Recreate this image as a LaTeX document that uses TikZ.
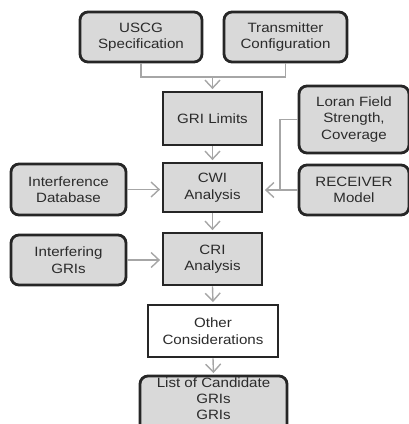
\documentclass[tikz,border=0pt]{standalone}
\usepackage{fontspec}
\setmainfont{Liberation Sans}[FakeStretch=1.12]
\usetikzlibrary{arrows.meta}
\definecolor{boxfill}{HTML}{D9D9D9}
\definecolor{boxline}{HTML}{262626}
\definecolor{linegray}{HTML}{A6A6A6}
\definecolor{txt}{HTML}{2B2B2B}
\tikzset{
  base/.style={draw=boxline, line width=2.8pt, fill=boxfill, text=txt, align=center,
    font=\fontsize{13.5}{16.5}\selectfont, inner sep=0pt},
  rbox/.style={base, rounded corners=8pt},
  sbox/.style={base},
  wbox/.style={base, fill=white},
  conn/.style={draw=linegray, line width=1.4pt},
  arr/.style={conn, -{Straight Barb[length=8pt,width=15pt,line width=1.4pt]}, shorten >=1.5pt},
}
\begin{document}
\begin{tikzpicture}[x=1pt,y=1pt]
\useasboundingbox (0,0) rectangle (409,-424);
\node[rbox, minimum width=122pt, minimum height=50pt] (uscg) at (141,-37) {USCG\\Specification};
\node[rbox, minimum width=123pt, minimum height=50pt] (trans) at (285.5,-37) {Transmitter\\Configuration};
\node[sbox, minimum width=99pt, minimum height=53pt] (gri) at (212.5,-118.5) {GRI Limits};
\node[rbox, minimum width=110pt, minimum height=67pt] (loran) at (354,-119.5) {Loran Field\\Strength,\\Coverage};
\node[sbox, minimum width=99pt, minimum height=49pt] (cwi) at (212.5,-187.5) {CWI\\Analysis};
\node[rbox, minimum width=115pt, minimum height=51pt] (intdb) at (68.5,-189.5) {Interference\\Database};
\node[rbox, minimum width=110pt, minimum height=50pt] (recv) at (354,-190) {RECEIVER\\Model};
\node[sbox, minimum width=99pt, minimum height=52pt] (cri) at (212.5,-259) {CRI\\Analysis};
\node[rbox, minimum width=115pt, minimum height=50pt] (intgri) at (68.5,-260) {Interfering\\GRIs};
\node[wbox, minimum width=130pt, minimum height=52pt] (other) at (213,-331) {Other\\Considerations};
\node[rbox, minimum width=147pt, minimum height=56pt, font=\fontsize{13.5}{16}\selectfont] (list) at (213.5,-404) {List of Candidate\\GRIs\\GRIs\rule[-11.5pt]{0pt}{11.5pt}};
\coordinate (j1) at (212.5,-77);
\coordinate (j2) at (280,-190);
\draw[conn] (uscg.south) |- (j1) -| (trans.south);
\draw[arr] (j1) -- (gri.north);
\draw[conn] (loran.west) -| (j2);
\draw[arr] (recv.west) -- (cwi.east |- recv.west);
\draw[arr] (intdb.east) -- (cwi.west |- intdb.east);
\draw[arr] (intgri.east) -- (cri.west |- intgri.east);
\draw[arr] (gri.south) -- (cwi.north);
\draw[arr] (cwi.south) -- (cri.north);
\draw[arr] (cri.south) -- (other.north);
\draw[arr] (other.south) -- (list.north);
\end{tikzpicture}
\end{document}
